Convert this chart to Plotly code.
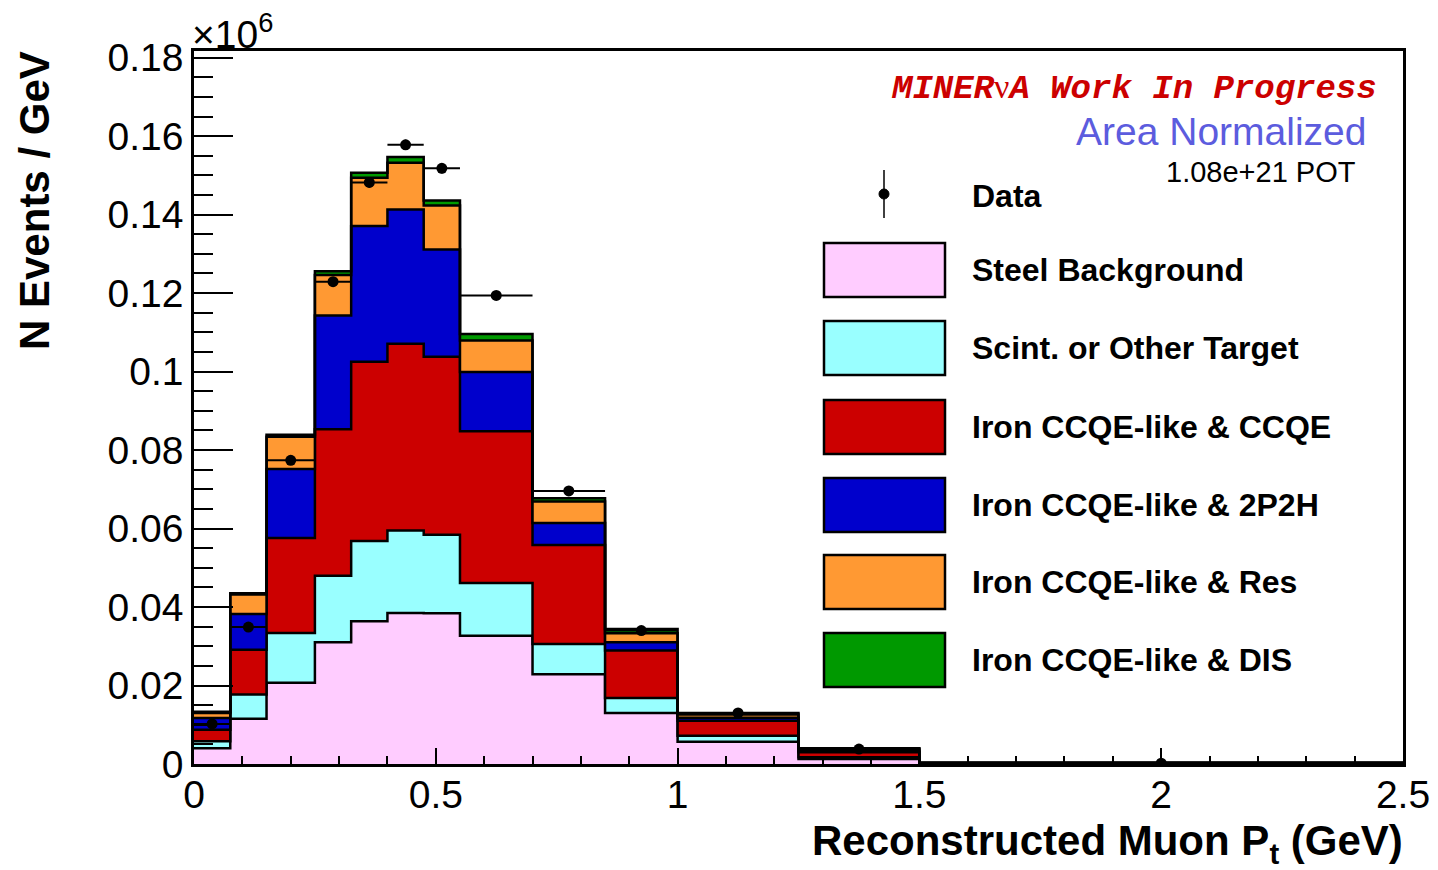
import plotly.graph_objects as go
import numpy as np

# ---------------- data ----------------
bin_edges = [0, 0.075, 0.15, 0.25, 0.325, 0.4, 0.475, 0.55, 0.7, 0.85, 1.0, 1.25, 1.5, 2.5]
steel_bkg = [0.0040, 0.0115, 0.0207, 0.0310, 0.0364, 0.0385, 0.0384, 0.0327, 0.0229, 0.0130, 0.0057, 0.0013, 0.0001]
scint_other = [0.0018, 0.0062, 0.0127, 0.0170, 0.0204, 0.0210, 0.0200, 0.0134, 0.0077, 0.0038, 0.0015, 0.0004, 0.00004]
iron_ccqe = [0.0029, 0.0114, 0.0242, 0.0373, 0.0457, 0.0476, 0.0454, 0.0387, 0.0252, 0.0121, 0.0038, 0.0013, 0.0001]
iron_2p2h = [0.0030, 0.0091, 0.0176, 0.0290, 0.0346, 0.0342, 0.0273, 0.0151, 0.0056, 0.0021, 0.0008, 0.0004, 0.00003]
iron_res = [0.0013, 0.0050, 0.0082, 0.0103, 0.0123, 0.0119, 0.0112, 0.0080, 0.0055, 0.0023, 0.0008, 0.0004, 0.00003]
iron_dis = [0.0003, 0.0003, 0.0005, 0.0010, 0.0013, 0.0015, 0.0013, 0.0017, 0.0008, 0.0011, 0.0004, 0.0002, 0.00001]
data_vals = [0.0102, 0.0349, 0.0774, 0.1229, 0.1482, 0.1578, 0.1518, 0.1194, 0.0696, 0.0340, 0.0130, 0.0038, 0.0002]
data_errs = [0.0004, 0.0008, 0.0010, 0.0012, 0.0013, 0.0013, 0.0013, 0.0009, 0.0007, 0.0005, 0.0002, 0.0001, 0.00003]

labels = ["Steel Background", "Scint. or Other Target", "Iron CCQE-like & CCQE",
          "Iron CCQE-like & 2P2H", "Iron CCQE-like & Res", "Iron CCQE-like & DIS"]
colors = ["#ffccff", "#99ffff", "#cc0000", "#0000cc", "#ff9933", "#009900"]
components = [steel_bkg, scint_other, iron_ccqe, iron_2p2h, iron_res, iron_dis]

# ---------------- geometry helpers (pixel -> paper) ----------------
X0, X1, Y0, Y1 = 194, 1403, 764, 51
def px(x):
    return (x - X0) / (X1 - X0)
def py(y):
    return (Y0 - y) / (Y0 - Y1)

edges = np.array(bin_edges)
centers = 0.5 * (edges[:-1] + edges[1:])
halfw = 0.5 * (edges[1:] - edges[:-1])

fig = go.Figure()

cum = np.zeros(len(centers))
for i, comp in enumerate(components):
    cum = cum + np.array(comp)
    yy = list(cum) + [cum[-1]]
    fig.add_trace(go.Scatter(
        x=edges, y=yy, mode="lines", line=dict(shape="hv", color="black", width=2.5),
        fill="tozeroy" if i == 0 else "tonexty", fillcolor=colors[i],
        name=labels[i], showlegend=False, hoverinfo="skip"))

fig.add_trace(go.Scatter(
    x=centers, y=data_vals, mode="markers",
    marker=dict(color="black", size=11, symbol="circle"),
    error_x=dict(type="data", array=halfw, color="black", thickness=2, width=0),
    error_y=dict(type="data", array=data_errs, color="black", thickness=2, width=0),
    name="Data", showlegend=False))

# ---------------- manual legend ----------------
shapes = []
annotations = []
row_centers = [270, 348, 427, 505, 582, 660]
for yc, col, lab in zip(row_centers, colors, labels):
    shapes.append(dict(type="rect", xref="paper", yref="paper",
                       x0=px(824), x1=px(945), y0=py(yc + 27), y1=py(yc - 27),
                       fillcolor=col, line=dict(color="black", width=2.5)))
    annotations.append(dict(x=px(970), y=py(yc), xref="paper", yref="paper",
                            text=lab, showarrow=False, xanchor="left", yanchor="middle",
                            font=dict(family="Liberation Sans", size=32, color="black", weight="bold")))
# Data legend entry
shapes.append(dict(type="line", xref="paper", yref="paper",
                   x0=px(884), x1=px(884), y0=py(218), y1=py(170),
                   line=dict(color="black", width=1.5)))
shapes.append(dict(type="circle", xref="paper", yref="paper",
                   x0=px(879), x1=px(889), y0=py(199), y1=py(189),
                   fillcolor="black", line=dict(color="black", width=1)))
annotations.append(dict(x=px(970), y=py(196), xref="paper", yref="paper",
                        text="Data", showarrow=False, xanchor="left", yanchor="middle",
                        font=dict(family="Liberation Sans", size=32, color="black", weight="bold")))

# Header texts
annotations.append(dict(x=px(1379), y=py(88), xref="paper", yref="paper",
                        text="MINER<span style='font-family:Liberation Serif;font-style:normal;font-weight:normal'>ν</span>A Work In Progress",
                        showarrow=False, xanchor="right", yanchor="middle",
                        font=dict(family="Liberation Mono", size=34, color="#cc0000",
                                  weight="bold", style="italic")))
annotations.append(dict(x=px(1368), y=py(131), xref="paper", yref="paper",
                        text="Area Normalized", showarrow=False, xanchor="right", yanchor="middle",
                        font=dict(family="Liberation Sans", size=39, color="#5c5cde")))
annotations.append(dict(x=px(1358), y=py(172), xref="paper", yref="paper",
                        text="1.08e+21 POT", showarrow=False, xanchor="right", yanchor="middle",
                        font=dict(family="Liberation Sans", size=29, color="black")))
# axis titles and exponent
annotations.append(dict(x=px(1405), y=py(843), xref="paper", yref="paper",
                        text="Reconstructed Muon P<sub>t</sub> (GeV)", showarrow=False,
                        xanchor="right", yanchor="middle",
                        font=dict(family="Liberation Sans", size=42, color="black", weight="bold")))
annotations.append(dict(x=px(34), y=py(201), xref="paper", yref="paper",
                        text="N Events / GeV", showarrow=False, textangle=-90,
                        xanchor="center", yanchor="middle",
                        font=dict(family="Liberation Sans", size=42, color="black", weight="bold")))
annotations.append(dict(x=px(190), y=py(32), xref="paper", yref="paper",
                        text="×10<sup>6</sup>", showarrow=False, xanchor="left", yanchor="middle",
                        font=dict(family="Liberation Sans", size=39, color="black")))

fig.update_layout(
    width=1438, height=870,
    margin=dict(l=X0, r=1438 - X1, t=Y1, b=870 - Y0, autoexpand=False),
    paper_bgcolor="white", plot_bgcolor="white",
    shapes=shapes, annotations=annotations, showlegend=False,
    font=dict(family="Liberation Sans", color="black"),
)
fig.update_xaxes(range=[0, 2.5], showgrid=False, zeroline=False,
                 showline=True, linecolor="black", linewidth=2.5, mirror=True,
                 ticks="inside", ticklen=16, tickwidth=2, tickcolor="black", dtick=0.5, tick0=0,
                 ticklabelstandoff=-6,
                 minor=dict(ticks="inside", ticklen=8, tickwidth=2, tickcolor="black", dtick=0.1, showgrid=False),
                 tickfont=dict(family="Liberation Sans", size=39, color="black"))
fig.update_yaxes(range=[0, 0.1817], showgrid=False, zeroline=False,
                 showline=True, linecolor="black", linewidth=2.5, mirror=True,
                 ticks="inside", ticklen=39, tickwidth=2, tickcolor="black", dtick=0.02, tick0=0,
                 minor=dict(ticks="inside", ticklen=19, tickwidth=2, tickcolor="black", dtick=0.005, showgrid=False),
                 tickfont=dict(family="Liberation Sans", size=39, color="black"))

fig.write_html("out.html")
